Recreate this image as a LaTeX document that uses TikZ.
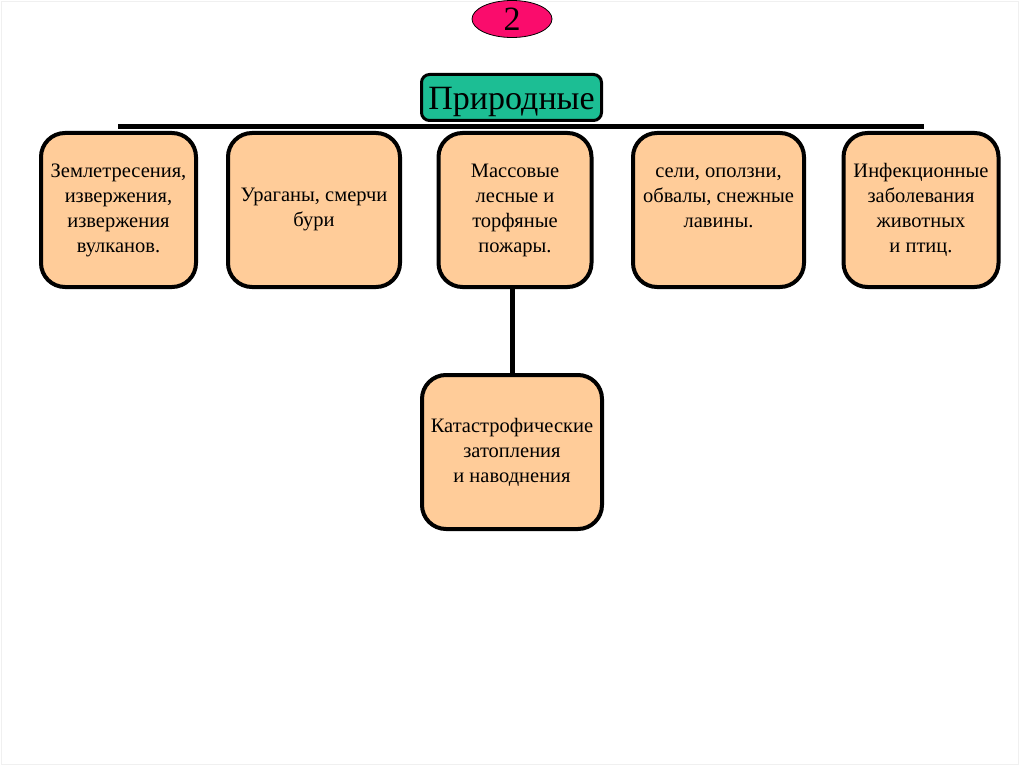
\documentclass[tikz,border=0pt]{standalone}
\usepackage{fontspec}
\setmainfont{Liberation Serif}
\usetikzlibrary{shapes.geometric}
\definecolor{peach}{HTML}{FFCC99}
\definecolor{tealbox}{RGB}{28,190,148}
\definecolor{pinkell}{RGB}{250,12,108}
\tikzset{
  x=1pt, y=-1pt,
  leaf/.style={draw=black, line width=4pt, fill=peach, rounded corners=24pt,
    minimum height=154pt, inner sep=0pt, align=center,
    font=\fontsize{20.5}{25}\selectfont},
  rootbox/.style={draw=black, line width=3pt, fill=tealbox, rounded corners=8pt,
    minimum width=180pt, minimum height=46pt, inner sep=0pt,
    text height=29pt, text depth=5pt,
    font=\fontsize{34}{36}\selectfont},
  conn/.style={line width=5pt, black},
}
\begin{document}
\begin{tikzpicture}
\useasboundingbox (0,0) rectangle (1024,767);
\fill[white] (0,0) rectangle (1024,767);
\draw[gray!12, line width=1pt] (1.5,1.5) rectangle (1018,764.5);
% connectors first
\coordinate (barL) at (118,127);
\coordinate (barR) at (924,127);
\draw[conn] (barL) -- (barR);
% number ellipse
\node[ellipse, draw=black, line width=0.8pt, fill=pinkell, minimum width=80pt, minimum height=37pt, inner sep=0pt,
  font=\fontsize{34}{36}\selectfont] (num) at (512,19) {2};
% root
\node[rootbox] (root) at (511.5,97.5) {Природные};
% leaves
\node[leaf, minimum width=155pt] (b1) at (118.5,210) {Землетресения,\\извержения,\\извержения\\вулканов.};
\node[leaf, minimum width=172pt] (b2) at (314,210) {Ураганы, смерчи\\бури};
\node[leaf, minimum width=153pt] (b3) at (515,210) {Массовые\\лесные и\\торфяные\\пожары.};
\node[leaf, minimum width=171pt] (b4) at (718.5,210) {сели, оползни,\\обвалы, снежные\\лавины.\\\mbox{}};
\node[leaf, minimum width=155pt] (b5) at (921,210) {Инфекционные\\заболевания\\животных\\и птиц.};
\node[leaf, minimum width=180pt] (b6) at (512,452) {Катастрофические\\затопления\\и наводнения};
\draw[conn] (b6.north) -- (b6.north |- b3.south);
\end{tikzpicture}
\end{document}
